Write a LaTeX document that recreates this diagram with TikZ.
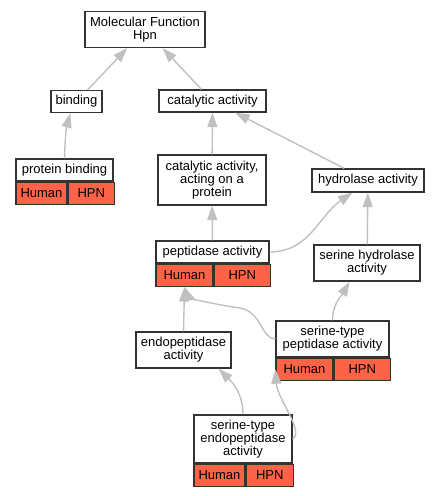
\documentclass[tikz,border=0pt]{standalone}
\usepackage{fontspec}
\setmainfont{Liberation Sans}
\usepackage{tikz}
\usetikzlibrary{arrows.meta, positioning}
\definecolor{TermBorder}{HTML}{333333}
\definecolor{TermRed}{HTML}{FF6347}
\definecolor{EdgeGrey}{HTML}{C0C0C0}
\tikzset{
  termbox/.style={rectangle, draw=TermBorder, fill=white, line width=1.25pt, inner sep=1pt, font=\fontsize{13}{13.2}\selectfont, align=center},
  cellbox/.style={termbox, fill=TermRed, minimum height=22pt},
  isarrow/.style={-{Triangle[length=14.5pt, width=10pt]}, line width=1.4pt, draw=EdgeGrey}
}
\begin{document}
\begin{tikzpicture}[x=1pt, y=-1pt]
  \useasboundingbox (0,0) rectangle (440,496);

  \node[termbox, minimum width=120pt, minimum height=36pt] (mf) at (145,29.5) {Molecular Function\\Hpn};
  \node[termbox, minimum width=51pt, minimum height=22pt] (bind) at (76.5,101.5) {binding};
  \node[termbox, minimum width=107pt, minimum height=22pt] (cat) at (212.5,101) {catalytic activity};

  \node[termbox, minimum width=97pt, minimum height=22pt] (pbind) at (64.5,170) {protein binding};
  \node[cellbox, minimum width=51pt, anchor=north west] (pbindhum) at (pbind.south west) {Human};
  \node[cellbox, minimum width=46pt, right=0pt of pbindhum] (pbindhpn) {HPN};

  \node[termbox, minimum width=108pt, minimum height=50pt] (catprot) at (212,180) {catalytic activity,\\acting on a\\protein};
  \node[termbox, minimum width=112pt, minimum height=23pt] (hydro) at (368,180.5) {hydrolase activity};

  \node[termbox, minimum width=113pt, minimum height=22pt] (pep) at (212.5,252) {peptidase activity};
  \node[cellbox, minimum width=57pt, anchor=north west] (pephum) at (pep.south west) {Human};
  \node[cellbox, minimum width=56pt, right=0pt of pephum] (pephpn) {HPN};

  \node[termbox, minimum width=106pt, minimum height=36pt] (serhyd) at (367,263) {serine hydrolase\\activity};

  \node[termbox, minimum width=113pt, minimum height=36pt] (stp) at (332.5,339) {serine-type\\peptidase activity};
  \node[cellbox, minimum width=57pt, anchor=north west] (stphum) at (stp.south west) {Human};
  \node[cellbox, minimum width=56pt, right=0pt of stphum] (stphpn) {HPN};

  \node[termbox, minimum width=95pt, minimum height=36pt] (endo) at (183.5,350) {endopeptidase\\activity};

  \node[termbox, minimum width=98pt, minimum height=48pt] (sep) at (243,439) {serine-type\\endopeptidase\\activity};
  \node[cellbox, minimum width=51pt, anchor=north west] (sephum) at (sep.south west) {Human};
  \node[cellbox, minimum width=47pt, right=0pt of sephum] (sephpn) {HPN};

  \draw[isarrow] (bind) -- (mf);
  \draw[isarrow] (cat) -- (mf);
  \draw[isarrow] (pbind.north) to[out=88, in=-105] (bind.-118);
  \draw[isarrow] (catprot) -- (cat);
  \draw[isarrow] (hydro) -- (cat);
  \draw[isarrow] (pep) -- (catprot);
  \draw[isarrow] (pep.east) to[out=0, in=214] (hydro.218);
  \draw[isarrow] (serhyd) -- (hydro);
  \draw[isarrow] (stp.north) to[out=90, in=240] (serhyd.227);
  \draw[isarrow] (stp.west) .. controls +(-14,0) and +(22,4) .. (240,308) .. controls +(-30,-4) and +(4,10) .. (pephum.south);
  \draw[isarrow] (endo.north) -- (pephum.south);
  \draw[isarrow] (sep.north) to[out=90, in=-45] (endo.-28.5);
  \draw[isarrow] (sep.east) .. controls +(12,-8) and +(2,30) .. (stphum.west);
\end{tikzpicture}
\end{document}
